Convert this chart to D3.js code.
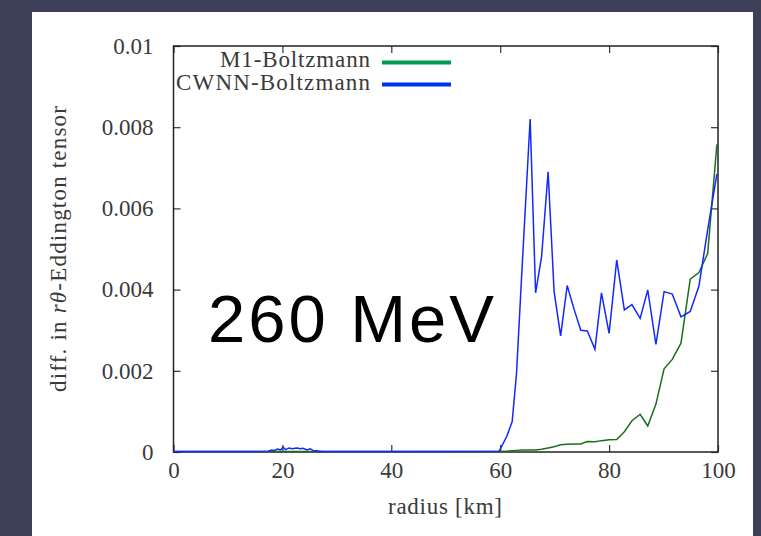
<!DOCTYPE html>
<html>
<head>
<meta charset="utf-8">
<script src="https://cdn.jsdelivr.net/npm/d3@7"></script>
<style>
  html, body { margin: 0; padding: 0; background: #3e3f58; }
  svg { display: block; }
</style>
</head>
<body>
<svg id="chart" width="761" height="536"></svg>
<script>
// radius grid [km] shared by both curves
const radius = [0, 5, 10, 15, 17.4, 18.0, 18.5, 19.1, 19.7, 20.1, 20.6, 21.2, 21.8, 22.3, 22.8, 23.2, 23.8, 24.5, 25.1, 25.6, 26.3, 27.2,
  30, 40, 50, 59.8, 61.2, 62.2, 63.0, 63.9, 65.5, 66.5, 67.6, 68.8, 69.9, 71.1, 72.3, 73.6, 74.8,
  76.0, 77.4, 78.6, 80.0, 81.4, 82.8, 84.2, 85.7, 87.1, 88.6, 90.1, 91.6, 93.2, 94.9, 96.5, 98.1, 99.8];

// |M1 - Boltzmann| in the r-theta Eddington tensor
const m1Diff = [0.00001, 0.00001, 0.00001, 0.00001, 0.00001, 0.00001, 0.00001, 0.00001, 0.00001, 0.00001, 0.00001,
  0.00001, 0.00001, 0.00001, 0.00001, 0.00001, 0.00001, 0.00001, 0.00001, 0.00001, 0.00001, 0.00001,
  0.00001, 0.00001, 0.00001, 0.00001,
  0.00002, 0.00003, 0.00004, 0.00005, 0.00005, 0.00005, 0.00007, 0.0001, 0.00013, 0.00018,
  0.00019, 0.0002, 0.0002, 0.00026, 0.00025, 0.00028, 0.0003, 0.00031, 0.0005, 0.00077,
  0.00093, 0.00064, 0.00118, 0.00205, 0.00228, 0.00268, 0.00426, 0.00442, 0.00489, 0.00758];

// |CWNN - Boltzmann| in the r-theta Eddington tensor
const cwnnDiff = [0.00001, 0.00001, 0.00001, 0.00001, 0.00002, 0.00005, 0.00004, 0.00007, 0.00005, 0.00012, 0.00006,
  0.0001, 0.00008, 0.00009, 0.00010, 0.00008, 0.00009, 0.00005, 0.00008, 0.00004, 0.00003, 0.00001,
  0.00001, 0.00001, 0.00001, 0.00002,
  0.00038, 0.00075, 0.00194, 0.00424, 0.0082, 0.00392, 0.00481, 0.0069, 0.00395, 0.00286,
  0.0041, 0.0035, 0.003, 0.00298, 0.00253, 0.00392, 0.00292, 0.00473, 0.0035, 0.00363,
  0.00329, 0.00399, 0.00265, 0.00395, 0.00389, 0.00333, 0.00346, 0.00409, 0.00547, 0.00685];

const xTicks = [0, 20, 40, 60, 80, 100];
const yTicks = [0, 0.002, 0.004, 0.006, 0.008, 0.01];
const yTickLabels = ["0", "0.002", "0.004", "0.006", "0.008", "0.01"];

const seriesNames = ["M1-Boltzmann", "CWNN-Boltzmann"];
const lineColors = ["#1b6f1b", "#1428ff"];
const keyColors = ["#009a50", "#0033f0"];

const serif = "'Liberation Serif', 'DejaVu Serif', serif";
const textColor = "#3a3a3a";

const svg = d3.select("#chart");

// white page panel
svg.append("rect").attr("x", 32).attr("y", 12).attr("width", 721).attr("height", 530).attr("fill", "#ffffff");

const plot = { left: 173.5, right: 718, top: 46, bottom: 452 };
const x = d3.scaleLinear().domain([0, 100]).range([plot.left, plot.right]);
const y = d3.scaleLinear().domain([0, 0.01]).range([plot.bottom, plot.top]);

const fmt = d => yTickLabels[yTicks.indexOf(d)];
const tickLen = 7;

// axes with inward ticks, mirrored on the opposite side
const gBottom = svg.append("g").attr("transform", `translate(0,${plot.bottom})`)
  .call(d3.axisBottom(x).tickValues(xTicks).tickSizeInner(-tickLen).tickSizeOuter(0).tickPadding(21));
const gTop = svg.append("g").attr("transform", `translate(0,${plot.top})`)
  .call(d3.axisTop(x).tickValues(xTicks).tickSizeInner(-tickLen).tickSizeOuter(0).tickFormat(""));
const gLeft = svg.append("g").attr("transform", `translate(${plot.left},0)`)
  .call(d3.axisLeft(y).tickValues(yTicks).tickFormat(fmt).tickSizeInner(-tickLen).tickSizeOuter(0).tickPadding(20));
const gRight = svg.append("g").attr("transform", `translate(${plot.right},0)`)
  .call(d3.axisRight(y).tickValues(yTicks).tickSizeInner(-tickLen).tickSizeOuter(0).tickFormat(""));

[gBottom, gTop, gLeft, gRight].forEach(g => {
  g.select(".domain").remove();
  g.attr("font-family", null).attr("font-size", null);
  g.selectAll(".tick line").attr("stroke", "#333").attr("stroke-width", 1.2);
  g.selectAll(".tick text").style("font-family", serif).style("font-size", "23px").style("fill", textColor);
});
gBottom.selectAll(".tick text").attr("dy", "0.2em");

// frame
svg.append("rect").attr("x", plot.left).attr("y", plot.top)
  .attr("width", plot.right - plot.left).attr("height", plot.bottom - plot.top)
  .attr("fill", "none").attr("stroke", "#222").attr("stroke-width", 1.5);

// curves
const line = d3.line().x(d => x(d[0])).y(d => y(d[1]));
const curves = [m1Diff, cwnnDiff];
curves.forEach((vals, i) => {
  svg.append("path")
    .datum(radius.map((r, k) => [r, vals[k]]))
    .attr("fill", "none")
    .attr("stroke", lineColors[i])
    .attr("stroke-width", 1.5)
    .attr("stroke-linejoin", "miter")
    .attr("d", line);
});

// key
const keyRows = [{ base: 67, lineY: 62.5 }, { base: 90, lineY: 84.5 }];
const keyWidths = [150, 194];
seriesNames.forEach((name, i) => {
  svg.append("text").attr("x", 370).attr("y", keyRows[i].base)
    .attr("text-anchor", "end")
    .style("font-family", serif).style("font-size", "23px").style("fill", textColor)
    .attr("textLength", keyWidths[i]).attr("lengthAdjust", "spacing")
    .text(name);
  svg.append("line").attr("x1", 382).attr("x2", 451)
    .attr("y1", keyRows[i].lineY).attr("y2", keyRows[i].lineY)
    .attr("stroke", keyColors[i]).attr("stroke-width", 4);
});

// axis titles
svg.append("text").attr("x", 445).attr("y", 514).attr("text-anchor", "middle")
  .style("font-family", serif).style("font-size", "23px").style("fill", textColor)
  .attr("textLength", 114).attr("lengthAdjust", "spacing").text("radius [km]");

const yTitle = svg.append("text").attr("transform", "translate(66,249) rotate(-90)")
  .attr("text-anchor", "middle")
  .attr("textLength", 286).attr("lengthAdjust", "spacing")
  .style("font-family", serif).style("font-size", "23px").style("fill", textColor);
yTitle.append("tspan").text("diff. in ");
yTitle.append("tspan").style("font-style", "italic").text("rθ");
yTitle.append("tspan").text("-Eddington tensor");

// energy annotation
svg.append("text").attr("x", 208).attr("y", 342)
  .style("font-family", "'Liberation Sans', Arial, sans-serif")
  .style("font-size", "67px").style("fill", "#000")
  .attr("textLength", 286).attr("lengthAdjust", "spacing")
  .text("260 MeV");
</script>
</body>
</html>
